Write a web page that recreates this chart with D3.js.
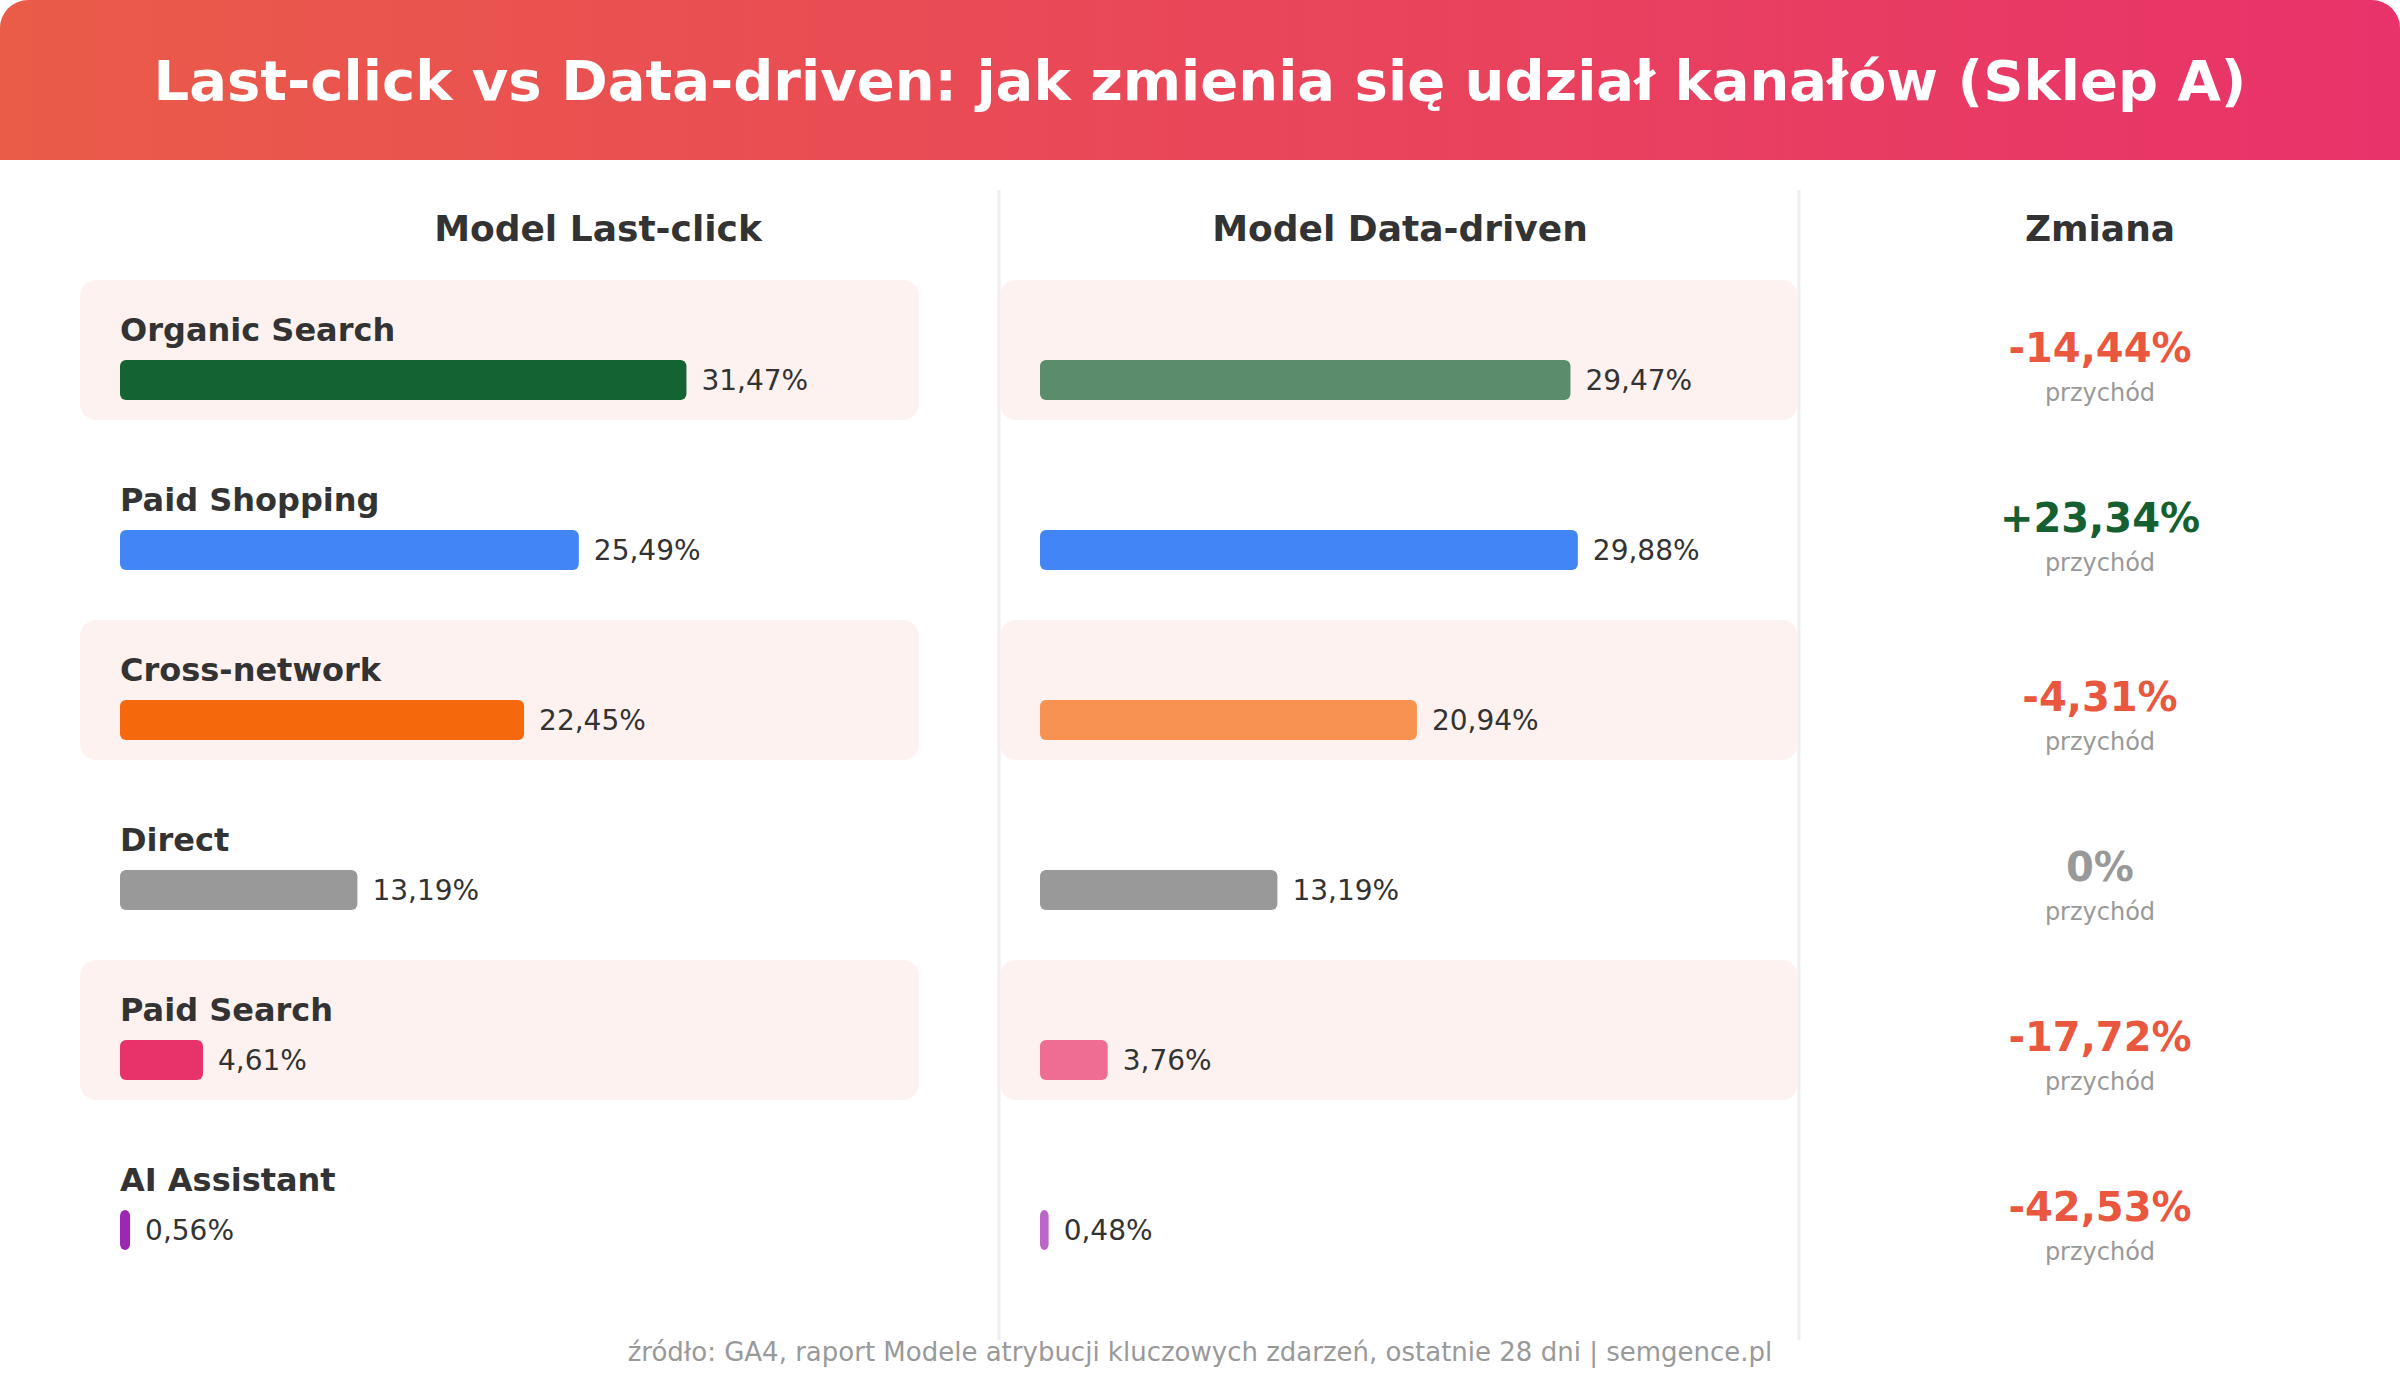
<!DOCTYPE html>
<html><head><meta charset="utf-8">
<script src="https://cdn.jsdelivr.net/npm/d3@7"></script>
<style>html,body{margin:0;padding:0;background:#fff;}svg{display:block;font-family:"DejaVu Sans",sans-serif;}</style>
</head><body>
<svg id="chart" width="2400" height="1400"></svg>
<script>
const title = "Last-click vs Data-driven: jak zmienia się udział kanałów (Sklep A)";
const columnHeaders = ["Model Last-click", "Model Data-driven", "Zmiana"];
const channels = ["Organic Search", "Paid Shopping", "Cross-network", "Direct", "Paid Search", "AI Assistant"];
const lastClick = [31.47, 25.49, 22.45, 13.19, 4.61, 0.56];
const dataDriven = [29.47, 29.88, 20.94, 13.19, 3.76, 0.48];
const change = [-14.44, 23.34, -4.31, 0, -17.72, -42.53];
const channelColors = ["#146333", "#4285F4", "#F5690C", "#999999", "#E8336A", "#9C27B0"];
const changeLabel = "przychód";
const footer = "źródło: GA4, raport Modele atrybucji kluczowych zdarzeń, ostatnie 28 dni | semgence.pl";

const loc = d3.formatLocale({decimal: ",", thousands: " ", grouping: [3], currency: ["", " zł"], minus: "-"});
const f2 = loc.format(".2f");
const pct = v => f2(v) + "%";
const chg = v => v === 0 ? "0%" : (v > 0 ? "+" : "") + f2(v) + "%";

const svg = d3.select("#chart");
const W = 2400;

// header
const defs = svg.append("defs");
const grad = defs.append("linearGradient").attr("id", "hg").attr("x1", "0").attr("x2", "1").attr("y1", "0").attr("y2", "0");
grad.append("stop").attr("offset", "0").attr("stop-color", "#EA5B48");
grad.append("stop").attr("offset", "1").attr("stop-color", "#E8336A");
const hp = d3.path();
const r = 28, hh = 160;
hp.moveTo(0, hh); hp.lineTo(0, r); hp.arcTo(0, 0, r, 0, r); hp.lineTo(W - r, 0); hp.arcTo(W, 0, W, r, r); hp.lineTo(W, hh); hp.closePath();
svg.append("path").attr("d", hp.toString()).attr("fill", "url(#hg)");
svg.append("text").attr("x", W / 2).attr("y", 100).attr("text-anchor", "middle")
  .attr("fill", "#fff").attr("font-weight", "bold").attr("font-size", 56).text(title);

// columns
const colCenters = [598, 1400, 2100];
svg.selectAll("text.colh").data(columnHeaders).join("text").attr("class", "colh")
  .attr("x", (d, i) => colCenters[i]).attr("y", 241).attr("text-anchor", "middle")
  .attr("fill", "#333").attr("font-weight", "bold").attr("font-size", 36).text(d => d);

const x = d3.scaleLinear().domain([0, 40]).range([0, 720]);
const rowTop = d3.scaleLinear().domain([0, 1]).range([280, 450]);

// separators
svg.selectAll("line.sep").data([999, 1799]).join("line").attr("class", "sep")
  .attr("x1", d => d).attr("x2", d => d).attr("y1", 190).attr("y2", 1340)
  .attr("stroke", "#EEEEEE").attr("stroke-width", 3);

const rows = svg.selectAll("g.row").data(channels).join("g").attr("class", "row")
  .attr("transform", (d, i) => `translate(0,${rowTop(i)})`);

// backgrounds for alternate rows
const even = rows.filter((d, i) => i % 2 === 0);
even.append("rect").attr("x", 80).attr("y", 0).attr("width", 839).attr("height", 140)
  .attr("rx", 16).attr("fill", "#FDF2F0");
even.append("rect").attr("x", 1000).attr("y", 0).attr("width", 798).attr("height", 140)
  .attr("rx", 16).attr("fill", "#FDF2F0");

// labels
rows.append("text").attr("x", 120).attr("y", 61).attr("fill", "#333").attr("font-weight", "bold")
  .attr("font-size", 32).text(d => d);

// last-click bars
rows.append("rect").attr("x", 120).attr("y", 80).attr("height", 40).attr("rx", 6)
  .attr("width", (d, i) => x(lastClick[i])).attr("fill", (d, i) => channelColors[i]);
rows.append("text").attr("x", (d, i) => 120 + x(lastClick[i]) + 15).attr("y", 100).attr("dy", "0.35em")
  .attr("fill", "#333").attr("font-size", 28).text((d, i) => pct(lastClick[i]));

// data-driven bars
rows.append("rect").attr("x", 1040).attr("y", 80).attr("height", 40).attr("rx", 6)
  .attr("width", (d, i) => x(dataDriven[i])).attr("fill", (d, i) => channelColors[i])
  .attr("fill-opacity", (d, i) => dataDriven[i] < lastClick[i] ? 0.7 : 1);
rows.append("text").attr("x", (d, i) => 1040 + x(dataDriven[i]) + 15).attr("y", 100).attr("dy", "0.35em")
  .attr("fill", "#333").attr("font-size", 28).text((d, i) => pct(dataDriven[i]));

// change
const zShift = i => (i >= 2 ? 9 : 0);
rows.append("text").attr("x", 2100).attr("y", (d, i) => 82 + zShift(i)).attr("text-anchor", "middle").attr("font-weight", "bold")
  .attr("font-size", 40).attr("fill", (d, i) => change[i] > 0 ? "#155F30" : change[i] < 0 ? "#E9573F" : "#999")
  .text((d, i) => chg(change[i]));
rows.append("text").attr("x", 2100).attr("y", (d, i) => 121 + zShift(i)).attr("text-anchor", "middle")
  .attr("font-size", 24).attr("fill", "#999").text(changeLabel);

// footer
svg.append("text").attr("x", 1200).attr("y", 1361).attr("text-anchor", "middle")
  .attr("fill", "#999").attr("font-size", 26).text(footer);
</script>
</body></html>
